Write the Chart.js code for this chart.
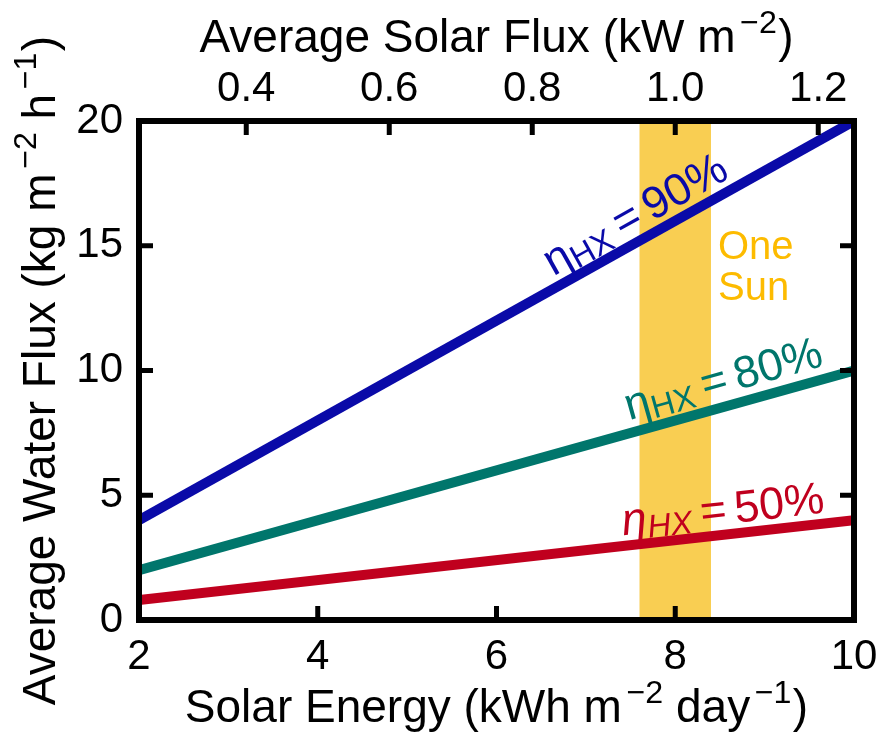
<!DOCTYPE html>
<html>
<head>
<meta charset="utf-8">
<script src="https://cdn.jsdelivr.net/npm/chart.js@4.4.1/dist/chart.umd.min.js"></script>
<style>
  html, body { margin: 0; padding: 0; background: #ffffff; }
  #wrap { width: 882px; height: 738px; }
</style>
</head>
<body>
<div id="wrap"><canvas id="c" width="882" height="738"></canvas></div>
<script>
// Solar energy (kWh m^-2 day^-1) at the ends of each straight line
const solarEnergy = [2, 10];
// Average water flux (kg m^-2 h^-1) for each heat-exchanger efficiency
const flux90 = [4, 20];
const flux80 = [2, 10];
const flux50 = [0.8, 4];

// Axis ticks
const energyTicks = [2, 4, 6, 8, 10];
const solarFluxTicks = [0.4, 0.6, 0.8, 1.0, 1.2];
const waterFluxTicks = [0, 5, 10, 15, 20];

// "One Sun" band, in solar energy units
const oneSunBand = [7.6, 8.4];
// Hours of sunshine per day linking the bottom and top axes
const sunHours = 8;

const FONT = "'Liberation Sans', Arial, Helvetica, sans-serif";
const BLUE = '#0A0AA8';
const TEAL = '#00766C';
const RED = '#C0001E';
const BAND = '#F9CE52';
const SUN_TEXT = '#FDBB00';

function partFont(p, size) {
  return (p.italic ? 'italic ' : '') + (size * (p.s || 1)).toFixed(1) + 'px ' + FONT;
}
function richWidth(ctx, parts, size) {
  let w = 0;
  for (const p of parts) {
    ctx.font = partFont(p, size);
    w += (p.gap || 0) * size + ctx.measureText(p.t).width;
  }
  return w;
}
function drawRich(ctx, parts, size, x, y) {
  for (const p of parts) {
    x += (p.gap || 0) * size;
    ctx.font = partFont(p, size);
    ctx.fillText(p.t, x, y + (p.dy || 0) * size);
    x += ctx.measureText(p.t).width;
  }
}
const sup = (t) => ({ t: t, s: 0.7, dy: -0.42, gap: 0.1 });

const topTitle = [{ t: 'Average Solar Flux (kW m' }, sup('\u22122'), { t: ')', gap: 0.03 }];
const bottomTitle = [{ t: 'Solar Energy (kWh m' }, sup('\u22122'), { t: ' day' }, sup('\u22121'), { t: ')', gap: 0.03 }];
const leftTitle = [{ t: 'Average Water Flux (kg m' }, sup('\u22122'), { t: ' h' }, sup('\u22121'), { t: ')', gap: 0.03 }];

function etaParts(value, italic) {
  return [
    { t: '\u03B7', italic: italic },
    { t: 'HX', s: 0.72, dy: 0.12, italic: italic },
    { t: '=', gap: 0.2 },
    { t: value, gap: 0.18 }
  ];
}
const etaLabels = [
  { parts: etaParts('90%', false), series: flux90, at: 7.54, lift: 31, color: BLUE },
  { parts: etaParts('80%', false), series: flux80, at: 8.53, lift: 30, color: TEAL },
  { parts: etaParts('50%', true), series: flux50, at: 8.53, lift: 27, color: RED }
];

function lineValueAt(series, x) {
  const t = (x - solarEnergy[0]) / (solarEnergy[1] - solarEnergy[0]);
  return series[0] + t * (series[1] - series[0]);
}

const decorations = {
  id: 'decorations',
  beforeDatasetsDraw(chart) {
    const { ctx, chartArea: a, scales: { x } } = chart;
    ctx.save();
    ctx.fillStyle = BAND;
    const x0 = x.getPixelForValue(oneSunBand[0]);
    const x1 = x.getPixelForValue(oneSunBand[1]);
    ctx.fillRect(x0, a.top, x1 - x0, a.bottom - a.top);
    ctx.restore();
  },
  afterDatasetsDraw(chart) {
    const { ctx, chartArea: a, scales: { x, x2, y } } = chart;
    ctx.save();
    ctx.strokeStyle = '#000';
    ctx.lineCap = 'butt';
    // inward tick marks
    ctx.lineWidth = 5;
    const tl = 14;
    ctx.beginPath();
    energyTicks.forEach(v => {
      const px = x.getPixelForValue(v);
      if (v === x.min || v === x.max) return;
      ctx.moveTo(px, a.bottom); ctx.lineTo(px, a.bottom - tl);
    });
    solarFluxTicks.forEach(v => {
      const px = x2.getPixelForValue(v);
      ctx.moveTo(px, a.top); ctx.lineTo(px, a.top + tl);
    });
    waterFluxTicks.forEach(v => {
      if (v === y.min || v === y.max) return;
      const py = y.getPixelForValue(v);
      ctx.moveTo(a.left, py); ctx.lineTo(a.left + tl, py);
      ctx.moveTo(a.right, py); ctx.lineTo(a.right - tl, py);
    });
    ctx.stroke();
    // frame
    ctx.lineWidth = 6;
    ctx.lineJoin = 'miter';
    ctx.strokeRect(a.left, a.top, a.right - a.left, a.bottom - a.top);

    // "One Sun" note beside the band
    ctx.fillStyle = SUN_TEXT;
    ctx.font = '40px ' + FONT;
    ctx.textBaseline = 'alphabetic';
    ctx.textAlign = 'left';
    const sx = x.getPixelForValue(oneSunBand[1]) + 7;
    ctx.fillText('One', sx, y.getPixelForValue(14.47));
    ctx.fillText('Sun', sx, y.getPixelForValue(12.83));

    // efficiency labels along each line
    etaLabels.forEach(l => {
      const px0 = x.getPixelForValue(solarEnergy[0]);
      const px1 = x.getPixelForValue(solarEnergy[1]);
      const py0 = y.getPixelForValue(l.series[0]);
      const py1 = y.getPixelForValue(l.series[1]);
      const ang = Math.atan2(py1 - py0, px1 - px0);
      const cx = x.getPixelForValue(l.at);
      const cy = y.getPixelForValue(lineValueAt(l.series, l.at)) - l.lift;
      const size = 45;
      const w = richWidth(ctx, l.parts, size);
      ctx.save();
      ctx.translate(cx, cy);
      ctx.rotate(ang);
      ctx.fillStyle = l.color;
      drawRich(ctx, l.parts, size, -w / 2, 0.36 * size);
      ctx.restore();
    });
    ctx.restore();
  },
  afterDraw(chart) {
    const { ctx, chartArea: a } = chart;
    const size = 46;
    ctx.save();
    ctx.fillStyle = '#000';
    ctx.textBaseline = 'alphabetic';
    ctx.textAlign = 'left';
    const cx = (a.left + a.right) / 2;
    let w = richWidth(ctx, topTitle, size);
    drawRich(ctx, topTitle, size, cx - w / 2, 52);
    w = richWidth(ctx, bottomTitle, size);
    drawRich(ctx, bottomTitle, size, cx - w / 2, 722);
    w = richWidth(ctx, leftTitle, size);
    ctx.translate(55, (a.top + a.bottom) / 2);
    ctx.rotate(-Math.PI / 2);
    drawRich(ctx, leftTitle, size, -w / 2, 0);
    ctx.restore();
  }
};

const lineStyle = (data, color) => ({
  data: solarEnergy.map((e, i) => ({ x: e, y: data[i] })),
  borderColor: color,
  backgroundColor: color,
  borderWidth: 10,
  pointRadius: 0,
  fill: false,
  tension: 0,
  clip: 0,
  xAxisID: 'x',
  yAxisID: 'y'
});

const tickFont = { family: FONT, size: 42 };

new Chart(document.getElementById('c'), {
  type: 'line',
  data: {
    datasets: [
      lineStyle(flux50, RED),
      lineStyle(flux80, TEAL),
      lineStyle(flux90, BLUE)
    ]
  },
  options: {
    responsive: false,
    animation: false,
    layout: { autoPadding: false, padding: { left: 0, right: 28, top: 0, bottom: 0 } },
    plugins: { legend: { display: false }, tooltip: { enabled: false } },
    scales: {
      x: {
        type: 'linear', position: 'bottom', min: solarEnergy[0], max: solarEnergy[1],
        grid: { display: false, drawTicks: false }, border: { display: false },
        afterBuildTicks: s => { s.ticks = energyTicks.map(v => ({ value: v })); },
        afterFit: s => { s.height = 118; s.paddingLeft = 0; s.paddingRight = 0; },
        ticks: { font: tickFont, color: '#000', padding: 12, maxRotation: 0, autoSkip: false, callback: v => String(v) }
      },
      x2: {
        type: 'linear', position: 'top', min: solarEnergy[0] / sunHours, max: solarEnergy[1] / sunHours,
        grid: { display: false, drawTicks: false }, border: { display: false },
        afterBuildTicks: s => { s.ticks = solarFluxTicks.map(v => ({ value: v })); },
        afterFit: s => { s.height = 121; s.paddingLeft = 0; s.paddingRight = 0; },
        ticks: { font: tickFont, color: '#000', padding: 6, maxRotation: 0, autoSkip: false, callback: v => Number(v).toFixed(1) }
      },
      y: {
        type: 'linear', position: 'left', min: 0, max: 20,
        grid: { display: false, drawTicks: false }, border: { display: false },
        afterBuildTicks: s => { s.ticks = waterFluxTicks.map(v => ({ value: v })); },
        afterFit: s => { s.width = 139; s.paddingTop = 0; s.paddingBottom = 0; },
        ticks: { font: tickFont, color: '#000', padding: 16, autoSkip: false, callback: v => String(v) }
      }
    }
  },
  plugins: [decorations]
});
</script>
</body>
</html>
